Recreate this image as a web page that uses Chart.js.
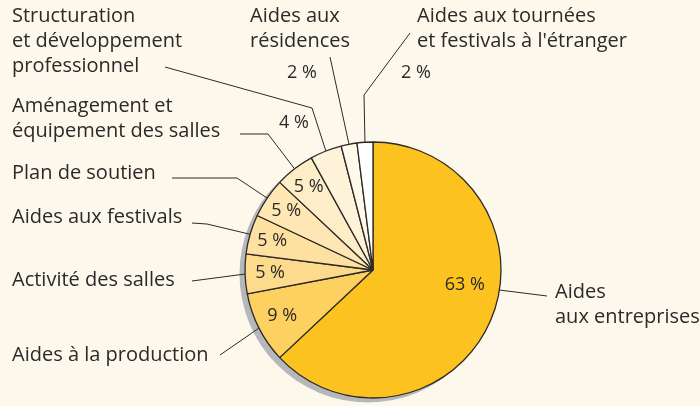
<!DOCTYPE html>
<html lang="fr">
<head>
<meta charset="UTF-8">
<title>Répartition des aides</title>
<script src="https://cdn.jsdelivr.net/npm/chart.js"></script>
<style>
    body {
        margin: 0;
        background: #fdf8ec;
    }
    canvas {
        display: block;
    }
</style>
</head>
<body>
<canvas id="pie" width="700" height="406"></canvas>
<script>
// data, clockwise from the top
const categories = [
    ["Aides", "aux entreprises"],
    ["Aides à la production"],
    ["Activité des salles"],
    ["Aides aux festivals"],
    ["Plan de soutien"],
    ["Aménagement et", "équipement des salles"],
    ["Structuration", "et développement", "professionnel"],
    ["Aides aux", "résidences"],
    ["Aides aux tournées", "et festivals à l'étranger"]
];
const shares = [63, 9, 5, 5, 5, 5, 4, 2, 2];
const sliceColors = ["#fcc220", "#fdd160", "#fddb8d", "#fee1a1", "#fee7b4", "#feeec8", "#fef2d8", "#fff9ec", "#ffffff"];

const FONT = '"Open Sans", sans-serif';
const INK = "#2b2a28";

// where each label goes (text block, leader bend points, where the % sits)
const layout = [
    { text: [555, 298], lead: [[547, 296]], angle: 99, pct: { angle: 99.3, r: 93 } },
    { text: [12, 361], lead: [[220, 355]], pct: { r: 102 } },
    { text: [12, 286], lead: [[192, 281]], pct: { r: 103 } },
    { text: [12, 223], lead: [[192, 223], [207, 224]], pct: { r: 105 } },
    { text: [12, 179], lead: [[172, 178], [237, 178]], pct: { r: 105 } },
    { text: [12, 112], lead: [[240, 134], [268, 134]], pct: { r: 105 } },
    { text: [12, 22], lead: [[165, 67], [312, 108]], pct: { at: [294, 123] } },
    { text: [250, 22], lead: [[330, 57]], pct: { at: [302, 73] } },
    { text: [417, 22], lead: [[410, 33], [364, 95]], pct: { at: [416, 73] } }
];

function onArc(arc, deg, r) {
    const a = deg * Math.PI / 180 - Math.PI / 2;
    return [arc.x + r * Math.cos(a), arc.y + r * Math.sin(a)];
}

function midDeg(arc) {
    return ((arc.startAngle + arc.endAngle) / 2 + Math.PI / 2) * 180 / Math.PI;
}

const shadow = {
    id: "shadow",
    beforeDatasetsDraw(chart) {
        const arc = chart.getDatasetMeta(0).data[0];
        const ctx = chart.ctx;
        ctx.save();
        ctx.fillStyle = "#b6b7bb";
        ctx.beginPath();
        ctx.arc(arc.x - 5, arc.y + 4, arc.outerRadius + 0.5, 0, Math.PI * 2);
        ctx.fill();
        ctx.restore();
    }
};

const labels = {
    id: "labels",
    afterDatasetsDraw(chart) {
        const ctx = chart.ctx;
        const arcs = chart.getDatasetMeta(0).data;
        ctx.save();
        ctx.fillStyle = INK;
        ctx.strokeStyle = INK;
        ctx.lineWidth = 1;
        arcs.forEach((arc, i) => {
            const L = layout[i];
            // leader line
            const end = onArc(arc, L.angle !== undefined ? L.angle : midDeg(arc), arc.outerRadius);
            ctx.beginPath();
            ctx.moveTo(L.lead[0][0], L.lead[0][1]);
            for (let k = 1; k < L.lead.length; k++) ctx.lineTo(L.lead[k][0], L.lead[k][1]);
            ctx.lineTo(end[0], end[1]);
            ctx.stroke();

            // category text
            ctx.font = "20px " + FONT;
            ctx.textAlign = "left";
            ctx.textBaseline = "alphabetic";
            categories[i].forEach((line, j) => {
                ctx.fillText(line, L.text[0], L.text[1] + j * 25);
            });

            // percentage
            let p;
            if (L.pct.at) p = L.pct.at;
            else p = onArc(arc, L.pct.angle !== undefined ? L.pct.angle : midDeg(arc), L.pct.r);
            ctx.font = "18px " + FONT;
            ctx.textAlign = "center";
            ctx.textBaseline = "middle";
            ctx.fillText(shares[i] + " %", p[0], p[1]);
        });
        ctx.restore();
    }
};

new Chart(document.getElementById("pie"), {
    type: "pie",
    data: {
        labels: categories.map(c => c.join(" ")),
        datasets: [{
            data: shares,
            backgroundColor: sliceColors,
            borderColor: "#2d2a26",
            borderWidth: 1.3
        }]
    },
    options: {
        responsive: false,
        animation: false,
        radius: 128,
        layout: { padding: { left: 245, right: 199, top: 142, bottom: 8 } },
        plugins: {
            legend: { display: false },
            tooltip: { enabled: false }
        }
    },
    plugins: [shadow, labels]
});
</script>
</body>
</html>
